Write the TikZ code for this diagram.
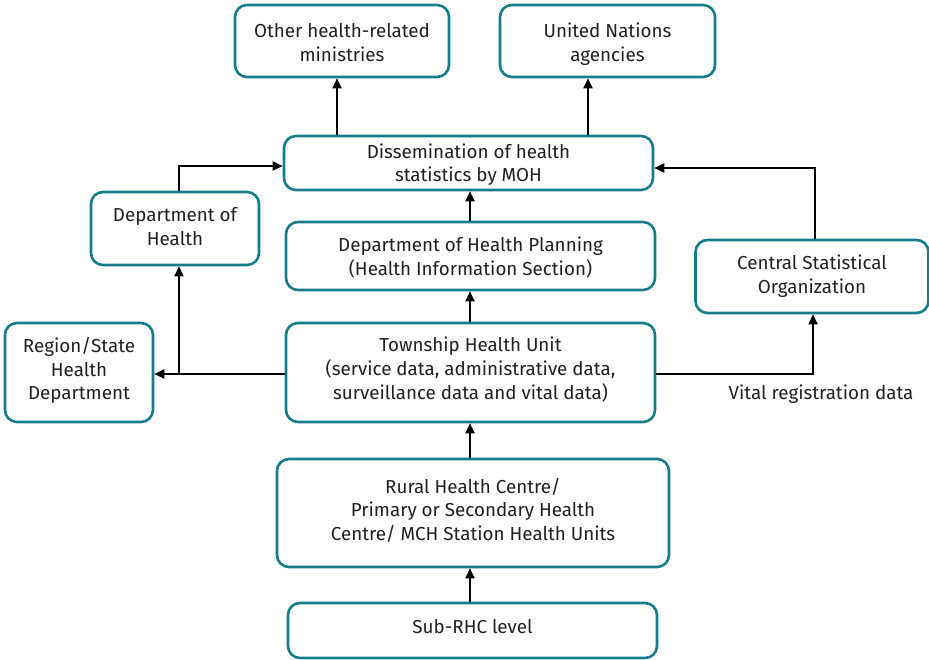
\documentclass[tikz,border=0pt]{standalone}
\usepackage{fontspec}
\setmainfont{Fira Sans}
\usetikzlibrary{arrows.meta}
\definecolor{teal1}{RGB}{22,124,138}
\definecolor{txt}{RGB}{35,31,32}
\newcommand{\tb}[2]{\raisebox{#1}[0pt][0pt]{\begin{tabular}{@{}c@{}}#2\end{tabular}}}
\begin{document}
\begin{tikzpicture}[x=1pt,y=-1pt,
  box/.style={draw=teal1,line width=2.6pt,rounded corners=12pt,
    inner sep=0pt,text=txt,font=\fontsize{18.8}{23.7}\selectfont},
  arr/.style={line width=1.8pt,-{Triangle[length=10pt,width=9pt]}}]
\useasboundingbox (0,0) rectangle (929,660);
\node[box,minimum width=214pt,minimum height=72pt] (other) at (342,41) {\tb{-8.2pt}{Other health-related\\ministries}};
\node[box,minimum width=215pt,minimum height=72pt] (un) at (607.5,41) {\tb{-8.2pt}{United Nations\\agencies}};
\node[box,minimum width=369pt,minimum height=54pt] (diss) at (468.5,163) {\tb{-6.7pt}{Dissemination of health\\statistics by MOH}};
\node[box,minimum width=168pt,minimum height=73pt] (doh) at (175,228.5) {\tb{-4.5pt}{Department of\\Health}};
\node[box,minimum width=369pt,minimum height=68pt] (plan) at (470.5,256) {\tb{-7.2pt}{Department of Health Planning\\(Health Information Section)}};
\node[box,minimum width=233pt,minimum height=73pt] (cso) at (812,276.5) {\tb{-4.7pt}{Central Statistical\\Organization}};
\node[box,minimum width=148pt,minimum height=99pt] (reg) at (79,372.5) {\tb{-3.2pt}{Region/State\\Health\\Department}};
\node[box,minimum width=369pt,minimum height=99pt] (town) at (470.5,372.5) {\tb{-2.7pt}{Township Health Unit\\(service data, administrative data,\\surveillance data and vital data)}};
\node[box,minimum width=392pt,minimum height=108pt] (rural) at (473,513) {\tb{-3.4pt}{Rural Health Centre/\\Primary or Secondary Health\\Centre/ MCH Station Health Units}};
\node[box,minimum width=369pt,minimum height=55pt] (sub) at (472.5,630.5) {\tb{-2.2pt}{Sub-RHC level}};
\node[text=txt,font=\fontsize{18.8}{24}\selectfont,anchor=center] (vrd) at (821,394) {Vital registration data};
\coordinate (br) at (179,374);
\draw[arr] (diss.north -| 337,0) -- (other.south -| 337,0);
\draw[arr] (diss.north -| 588,0) -- (un.south -| 588,0);
\draw[arr] (doh.north -| 179,0) |- (diss.west |- 0,166);
\draw[arr] (plan.north -| 470,0) -- (diss.south -| 470,0);
\draw[arr] (cso.north -| 815,0) |- (diss.east |- 0,168);
\draw[arr] (town.north -| 470,0) -- (plan.south -| 470,0);
\draw[arr] (town.west |- br) -- (reg.east |- br);
\draw[arr] (br) -- (doh.south -| br);
\draw[arr] (town.east |- br) -| (cso.south -| 813,0);
\draw[arr] (rural.north -| 470,0) -- (town.south -| 470,0);
\draw[arr] (sub.north -| 470,0) -- (rural.south -| 470,0);
\end{tikzpicture}
\end{document}
